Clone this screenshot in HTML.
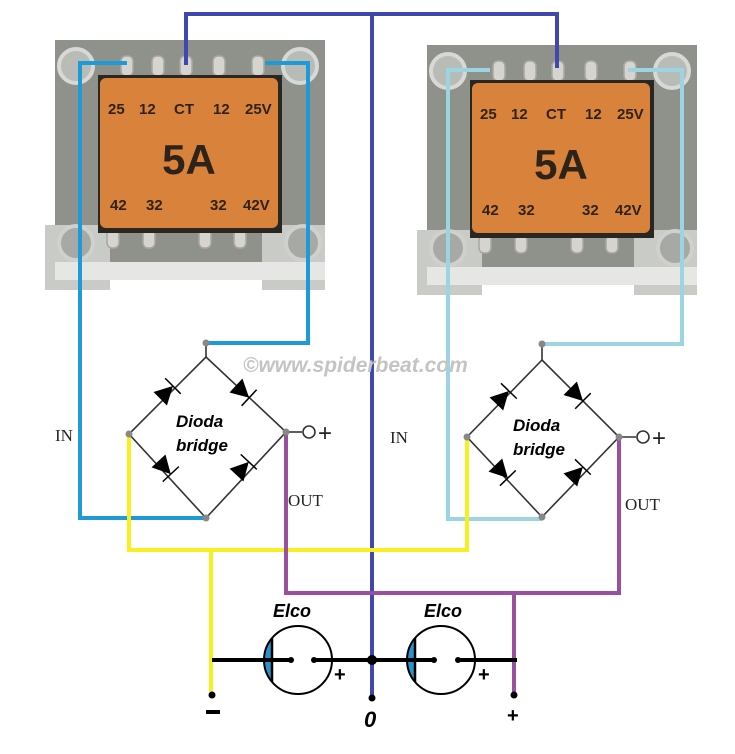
<!DOCTYPE html>
<html><head><meta charset="utf-8"><style>html,body{margin:0;padding:0;background:#fff}svg{display:block}</style></head>
<body>
<svg width="735" height="754" viewBox="0 0 735 754" xmlns="http://www.w3.org/2000/svg" font-family="Liberation Sans, sans-serif">
<defs>
<g id="tr">
  <rect x="55" y="40" width="270" height="232" fill="#8f918b"/>
  <rect x="45" y="225" width="65" height="65" fill="#c9cbc6"/>
  <rect x="262" y="225" width="63" height="65" fill="#c9cbc6"/>
  <rect x="55" y="262" width="270" height="18" fill="#e6e6e4"/>
  <circle cx="76" cy="66" r="17" fill="#b9bbb6" stroke="#d8d9d6" stroke-width="4"/>
  <circle cx="300" cy="66" r="17" fill="#b9bbb6" stroke="#d8d9d6" stroke-width="4"/>
  <circle cx="76" cy="243" r="17" fill="#a7a9a4" stroke="#d0d1ce" stroke-width="4"/>
  <circle cx="303" cy="243" r="17" fill="#a7a9a4" stroke="#d0d1ce" stroke-width="4"/>
  <g fill="#d6d4cf" stroke="#a9a7a0" stroke-width="1.5">
    <rect x="121" y="56" width="12" height="20" rx="5"/><rect x="152" y="56" width="12" height="20" rx="5"/>
    <rect x="180" y="56" width="12" height="20" rx="5"/><rect x="213" y="56" width="12" height="20" rx="5"/>
    <rect x="252" y="56" width="12" height="20" rx="5"/>
    <rect x="107" y="230" width="12" height="18" rx="5"/><rect x="143" y="230" width="12" height="18" rx="5"/>
    <rect x="199" y="230" width="12" height="18" rx="5"/><rect x="234" y="230" width="12" height="18" rx="5"/>
  </g>
  <rect x="98" y="75" width="184" height="158" fill="#2a2622"/>
  <rect x="100" y="78" width="178" height="150" rx="6" fill="#d8823b"/>
  <g fill="#2e2318" font-weight="bold" font-size="15">
    <text x="108" y="114">25</text><text x="139" y="114">12</text><text x="174" y="114">CT</text><text x="213" y="114">12</text><text x="245" y="114">25V</text>
    <text x="189" y="174" font-size="42" text-anchor="middle">5A</text>
    <text x="110" y="210">42</text><text x="146" y="210">32</text><text x="210" y="210">32</text><text x="243" y="210">42V</text>
  </g>
</g>
<g id="d">
  <polygon points="-11,-9.5 -11,9.5 7,0" fill="#000"/>
  <line x1="7" y1="-11" x2="7" y2="11" stroke="#000" stroke-width="1.5"/>
</g>
</defs>
<use href="#tr"/>
<use href="#tr" transform="translate(372,5)"/>

<g fill="none" stroke-width="4">
  <polyline points="186,65 186,14 557,14 557,68" stroke="#4048b0"/>
  <line x1="372" y1="14" x2="372" y2="697" stroke="#4048b0"/>
  <polyline points="127,63 80,63 80,518 206,518" stroke="#1e9bd7"/>
  <polyline points="265,63 308,63 308,343 206,343" stroke="#1e9bd7"/>
  <polyline points="490,70 448,70 448,519 542,519" stroke="#9dd4e4"/>
  <polyline points="628,70 682,70 682,344 542,344" stroke="#9dd4e4"/>
  <polyline points="129,434 129,550 467,550 467,437" stroke="#f7ef1e"/>
  <line x1="211" y1="550" x2="211" y2="692" stroke="#f7ef1e"/>
  <polyline points="286,432 286,593 619,593 619,437" stroke="#9a4f9f"/>
  <line x1="514" y1="593" x2="514" y2="692" stroke="#9a4f9f"/>
</g>

<g stroke="#333" stroke-width="1.6" fill="none">
  <polygon points="206,357 286,432 206,518 129,434"/>
  <line x1="206" y1="343" x2="206" y2="357"/>
  <line x1="286" y1="432" x2="302" y2="432"/>
</g>
<use href="#d" transform="translate(168,391) rotate(-45)"/>
<use href="#d" transform="translate(244,393) rotate(43)"/>
<use href="#d" transform="translate(166,469) rotate(47)"/>
<use href="#d" transform="translate(244,467) rotate(-47)"/>
<circle cx="309" cy="432" r="6" fill="#fff" stroke="#333" stroke-width="1.6"/>
<text x="318" y="441" font-size="24" fill="#222">+</text>
<g fill="#888"><circle cx="206" cy="343" r="3.5"/><circle cx="129" cy="434" r="3.5"/><circle cx="286" cy="432" r="3.5"/><circle cx="206" cy="518" r="3.5"/></g>

<g stroke="#333" stroke-width="1.6" fill="none">
  <polygon points="542,360 619,437 542,517 467,437"/>
  <line x1="542" y1="344" x2="542" y2="360"/>
  <line x1="619" y1="437" x2="636" y2="437"/>
</g>
<use href="#d" transform="translate(504,396) rotate(-46)"/>
<use href="#d" transform="translate(578,396) rotate(45)"/>
<use href="#d" transform="translate(503,473) rotate(46)"/>
<use href="#d" transform="translate(578,472) rotate(-46)"/>
<circle cx="643" cy="437" r="6" fill="#fff" stroke="#333" stroke-width="1.6"/>
<text x="652" y="446" font-size="24" fill="#222">+</text>
<g fill="#888"><circle cx="542" cy="344" r="3.5"/><circle cx="467" cy="437" r="3.5"/><circle cx="619" cy="437" r="3.5"/><circle cx="542" cy="517" r="3.5"/></g>

<g font-weight="bold" font-style="italic" font-size="17" fill="#000">
  <text x="176" y="427">Dioda</text><text x="176" y="451">bridge</text>
  <text x="513" y="431">Dioda</text><text x="513" y="455">bridge</text>
</g>
<g font-family="Liberation Serif, serif" font-size="17" fill="#222">
  <text x="55" y="441">IN</text><text x="390" y="443">IN</text>
  <text x="288" y="506">OUT</text><text x="625" y="510">OUT</text>
</g>
<text x="243" y="372" font-size="21" font-weight="bold" font-style="italic" fill="#c4c4c4">©www.spiderbeat.com</text>

<path d="M272,638 A34,34 0 0 0 272,682 Z" fill="#2a93cc"/>
<path d="M415,638 A34,34 0 0 0 415,682 Z" fill="#2a93cc"/>
<g stroke="#000" stroke-width="2" fill="none">
  <circle cx="298" cy="660" r="34"/>
  <circle cx="441" cy="660" r="34"/>
</g>
<g stroke="#000" stroke-width="2.5">
  <line x1="272" y1="638" x2="272" y2="682"/>
  <line x1="415" y1="638" x2="415" y2="682"/>
</g>
<g stroke="#000" stroke-width="4">
  <line x1="212" y1="660" x2="291" y2="660"/>
  <line x1="314" y1="660" x2="434" y2="660"/>
  <line x1="458" y1="660" x2="517" y2="660"/>
</g>
<g fill="#000">
  <circle cx="291" cy="660" r="3"/><circle cx="314" cy="660" r="3"/>
  <circle cx="434" cy="660" r="3"/><circle cx="458" cy="660" r="3"/>
  <circle cx="372" cy="660" r="5"/>
  <circle cx="212" cy="695" r="3.5"/><circle cx="372" cy="698" r="3.5"/><circle cx="514" cy="695" r="3.5"/>
</g>
<g font-weight="bold" fill="#000">
  <text x="273" y="617" font-size="18" font-style="italic">Elco</text>
  <text x="424" y="617" font-size="18" font-style="italic">Elco</text>
  <text x="334" y="681" font-size="20">+</text>
  <text x="478" y="681" font-size="20">+</text>
  <rect x="206" y="710" width="14" height="4"/>
  <text x="364" y="727" font-size="22" font-style="italic">0</text>
  <text x="507" y="722" font-size="20">+</text>
</g>
</svg>
</body></html>
